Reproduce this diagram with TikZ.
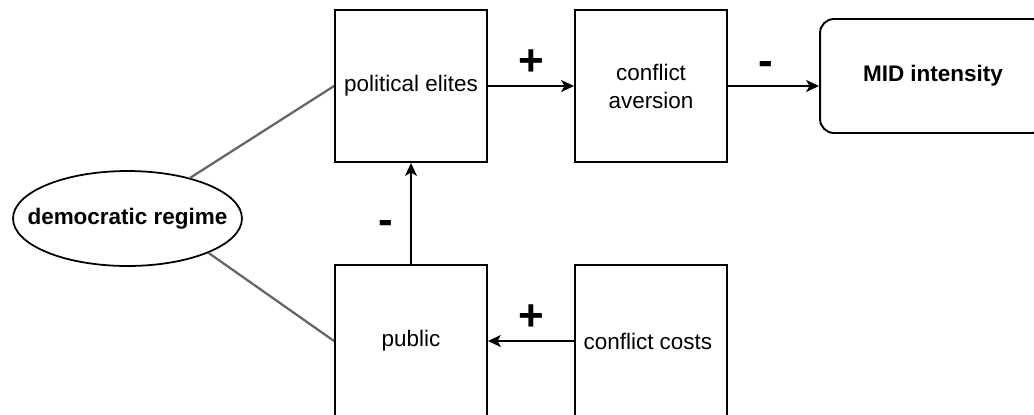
\documentclass[tikz,border=0pt]{standalone}
\usepackage{fontspec}
\setmainfont{Liberation Sans}
\usetikzlibrary{arrows.meta,quotes,shapes.geometric}

\begin{document}
\begin{tikzpicture}[x=0.02cm, y=-0.02cm,
    every edge quotes/.append style={auto, inner sep=0pt, outer sep=0.22cm, text height=0.55cm, text depth=0pt, text width=0.55cm, align=center, font=\fontsize{25}{25}\selectfont\bfseries},
    every edge/.append style={draw=black, line width=1pt, -{Stealth[length=0.26cm, width=0.24cm, inset=0.07cm]}},
    box/.style={draw=black, line width=1.1pt, minimum width=\boxw cm, minimum height=\boxw cm, inner sep=2pt, align=center, font=\fontsize{12.8}{15.9}\selectfont},
    link/.style={draw=black!60, line width=1.3pt}]
    \pgfmathsetmacro{\boxw}{3.04}
    
    \clip (0,0) rectangle (1034,414); %畫面範圍
    
    \node[draw=black, line width=1pt, ellipse, minimum width=4.58cm, minimum height=1.9cm, inner sep=0pt, font=\fontsize{12.8}{15.9}\selectfont\bfseries] (regime) at (127.5,218.5) {\makebox[0pt]{democratic regime}};
    \node[draw=black, line width=1.1pt, rounded corners=0.28cm, minimum width=4.52cm, minimum height=2.28cm, font=\fontsize{12.8}{15.9}\selectfont\bfseries] (mid) at (933,76) {MID intensity};
    
    \foreach \n/\x/\y/\t in 
    {elites/411/86/political elites,
        aversion/651/86/{conflict\\aversion},
        public/411/341/public,
        costs/651/341/conflict costs
    }
    {
        \node[box] (\n) at (\x,\y) {\t};
    };
    
    %%灰色連線
    \draw[link] (regime.33) -- (elites.west);
    \draw[link] (regime.-23) -- (public.west);
    
    \path
    (elites) edge["+"] (aversion)
    (aversion.east) edge["-" {pos=0.42}] (aversion.east -| mid.west)
    (public) edge["-" {pos=0.43}] (elites)
    (costs) edge["+"'] (public);
\end{tikzpicture}
\end{document}
